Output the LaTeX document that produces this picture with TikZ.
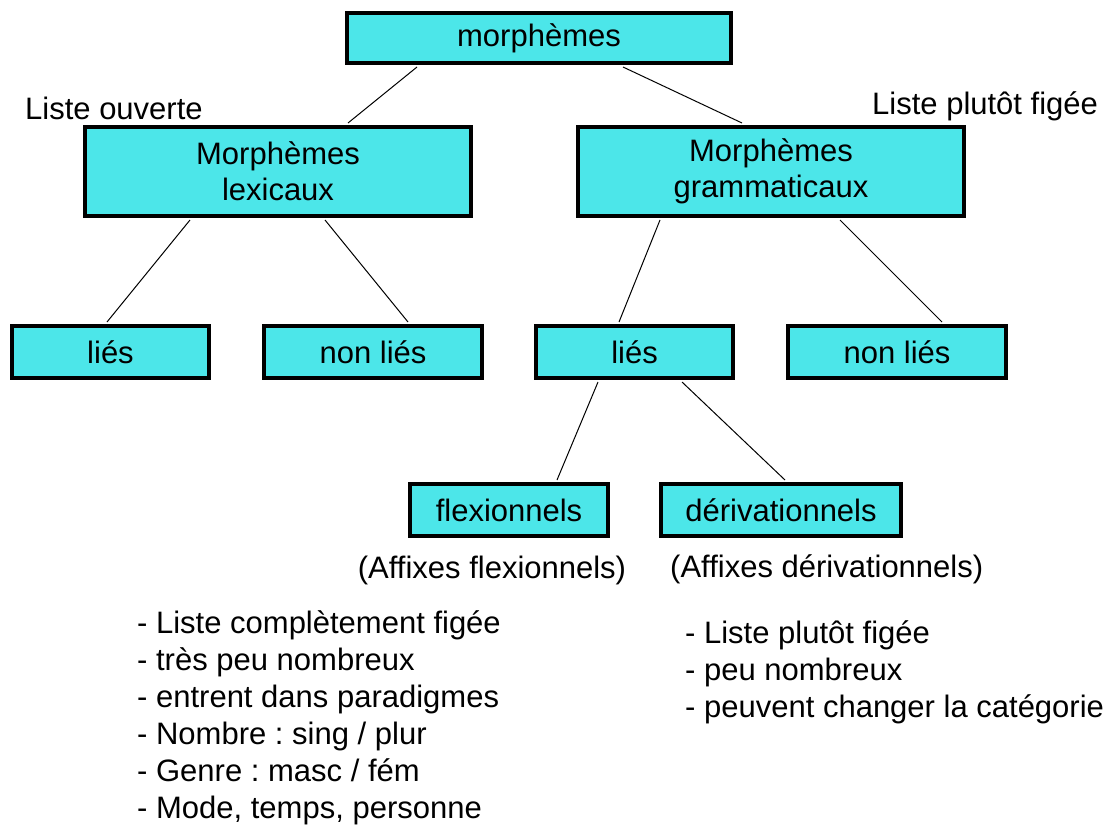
\documentclass[tikz,border=0pt]{standalone}
\usepackage{fontspec}
\setmainfont{Liberation Sans}
\frenchspacing
\definecolor{boxcyan}{HTML}{4CE6E9}
\tikzset{
  box/.style={draw=black, line width=4pt, fill=boxcyan, align=center, inner sep=0pt,
    font=\fontsize{31}{36}\selectfont},
  conn/.style={draw=black, line width=1pt},
  lbl/.style={anchor=base west, inner sep=0pt, font=\fontsize{31}{36}\selectfont}
}
\begin{document}
\begin{tikzpicture}[x=1pt,y=-1pt]
\useasboundingbox (0,0) rectangle (1115,827);
\node[box, minimum width=384pt, minimum height=50pt] (m) at (539,38) {morphèmes};
\node[box, minimum width=386pt, minimum height=89pt] (lex) at (278,171.5) {Morphèmes\\lexicaux};
\node[box, minimum width=386pt, minimum height=89pt] (gram) at (771,171.5) {Morphèmes\\grammaticaux};
\node[box, minimum width=197pt, minimum height=52pt] (lL) at (110.5,352) {liés};
\node[box, minimum width=218pt, minimum height=52pt] (nlL) at (373,352) {non liés};
\node[box, minimum width=197pt, minimum height=52pt] (lR) at (634.5,352) {liés};
\node[box, minimum width=218pt, minimum height=52pt] (nlR) at (897,352) {non liés};
\node[box, minimum width=198pt, minimum height=52pt] (flex) at (509,510) {flexionnels};
\node[box, minimum width=240pt, minimum height=52pt] (der) at (781,510) {dérivationnels};

\draw[conn] ([xshift=-122pt,yshift=-2pt]m.south) -- ([xshift=70pt,yshift=2pt]lex.north);
\draw[conn] ([xshift=84pt,yshift=-2pt]m.south) -- ([xshift=-29pt,yshift=2pt]gram.north);
\draw[conn] ([xshift=-88pt,yshift=-2pt]lex.south) -- ([xshift=-3.5pt,yshift=2pt]lL.north);
\draw[conn] ([xshift=47pt,yshift=-2pt]lex.south) -- ([xshift=35pt,yshift=2pt]nlL.north);
\draw[conn] ([xshift=-111pt,yshift=-2pt]gram.south) -- ([xshift=-15.5pt,yshift=2pt]lR.north);
\draw[conn] ([xshift=69pt,yshift=-2pt]gram.south) -- ([xshift=45pt,yshift=2pt]nlR.north);
\draw[conn] ([xshift=-36.5pt,yshift=-2pt]lR.south) -- ([xshift=48pt,yshift=2pt]flex.north);
\draw[conn] ([xshift=47.5pt,yshift=-2pt]lR.south) -- ([xshift=4pt,yshift=2pt]der.north);

\node[lbl] (lo) at (25,119) {Liste ouverte};
\node[lbl] (lpf) at (872,114) {Liste plutôt figée};
\node[lbl, anchor=base] (af) at (492,578) {(Affixes flexionnels)};
\node[lbl] (ad) at (670,577) {(Affixes dérivationnels)};

\node[lbl] (a1) at (137,633) {- Liste complètement figée};
\node[lbl] (a2) at (137,670) {- très peu nombreux};
\node[lbl] (a3) at (137,707) {- entrent dans paradigmes};
\node[lbl] (a4) at (137,744) {- Nombre : sing / plur};
\node[lbl] (a5) at (137,781) {- Genre : masc / fém};
\node[lbl] (a6) at (137,818) {- Mode, temps, personne};

\node[lbl] (b1) at (685,643) {- Liste plutôt figée};
\node[lbl] (b2) at (685,680) {- peu nombreux};
\node[lbl] (b3) at (685,717) {- peuvent changer la catégorie};
\end{tikzpicture}
\end{document}
